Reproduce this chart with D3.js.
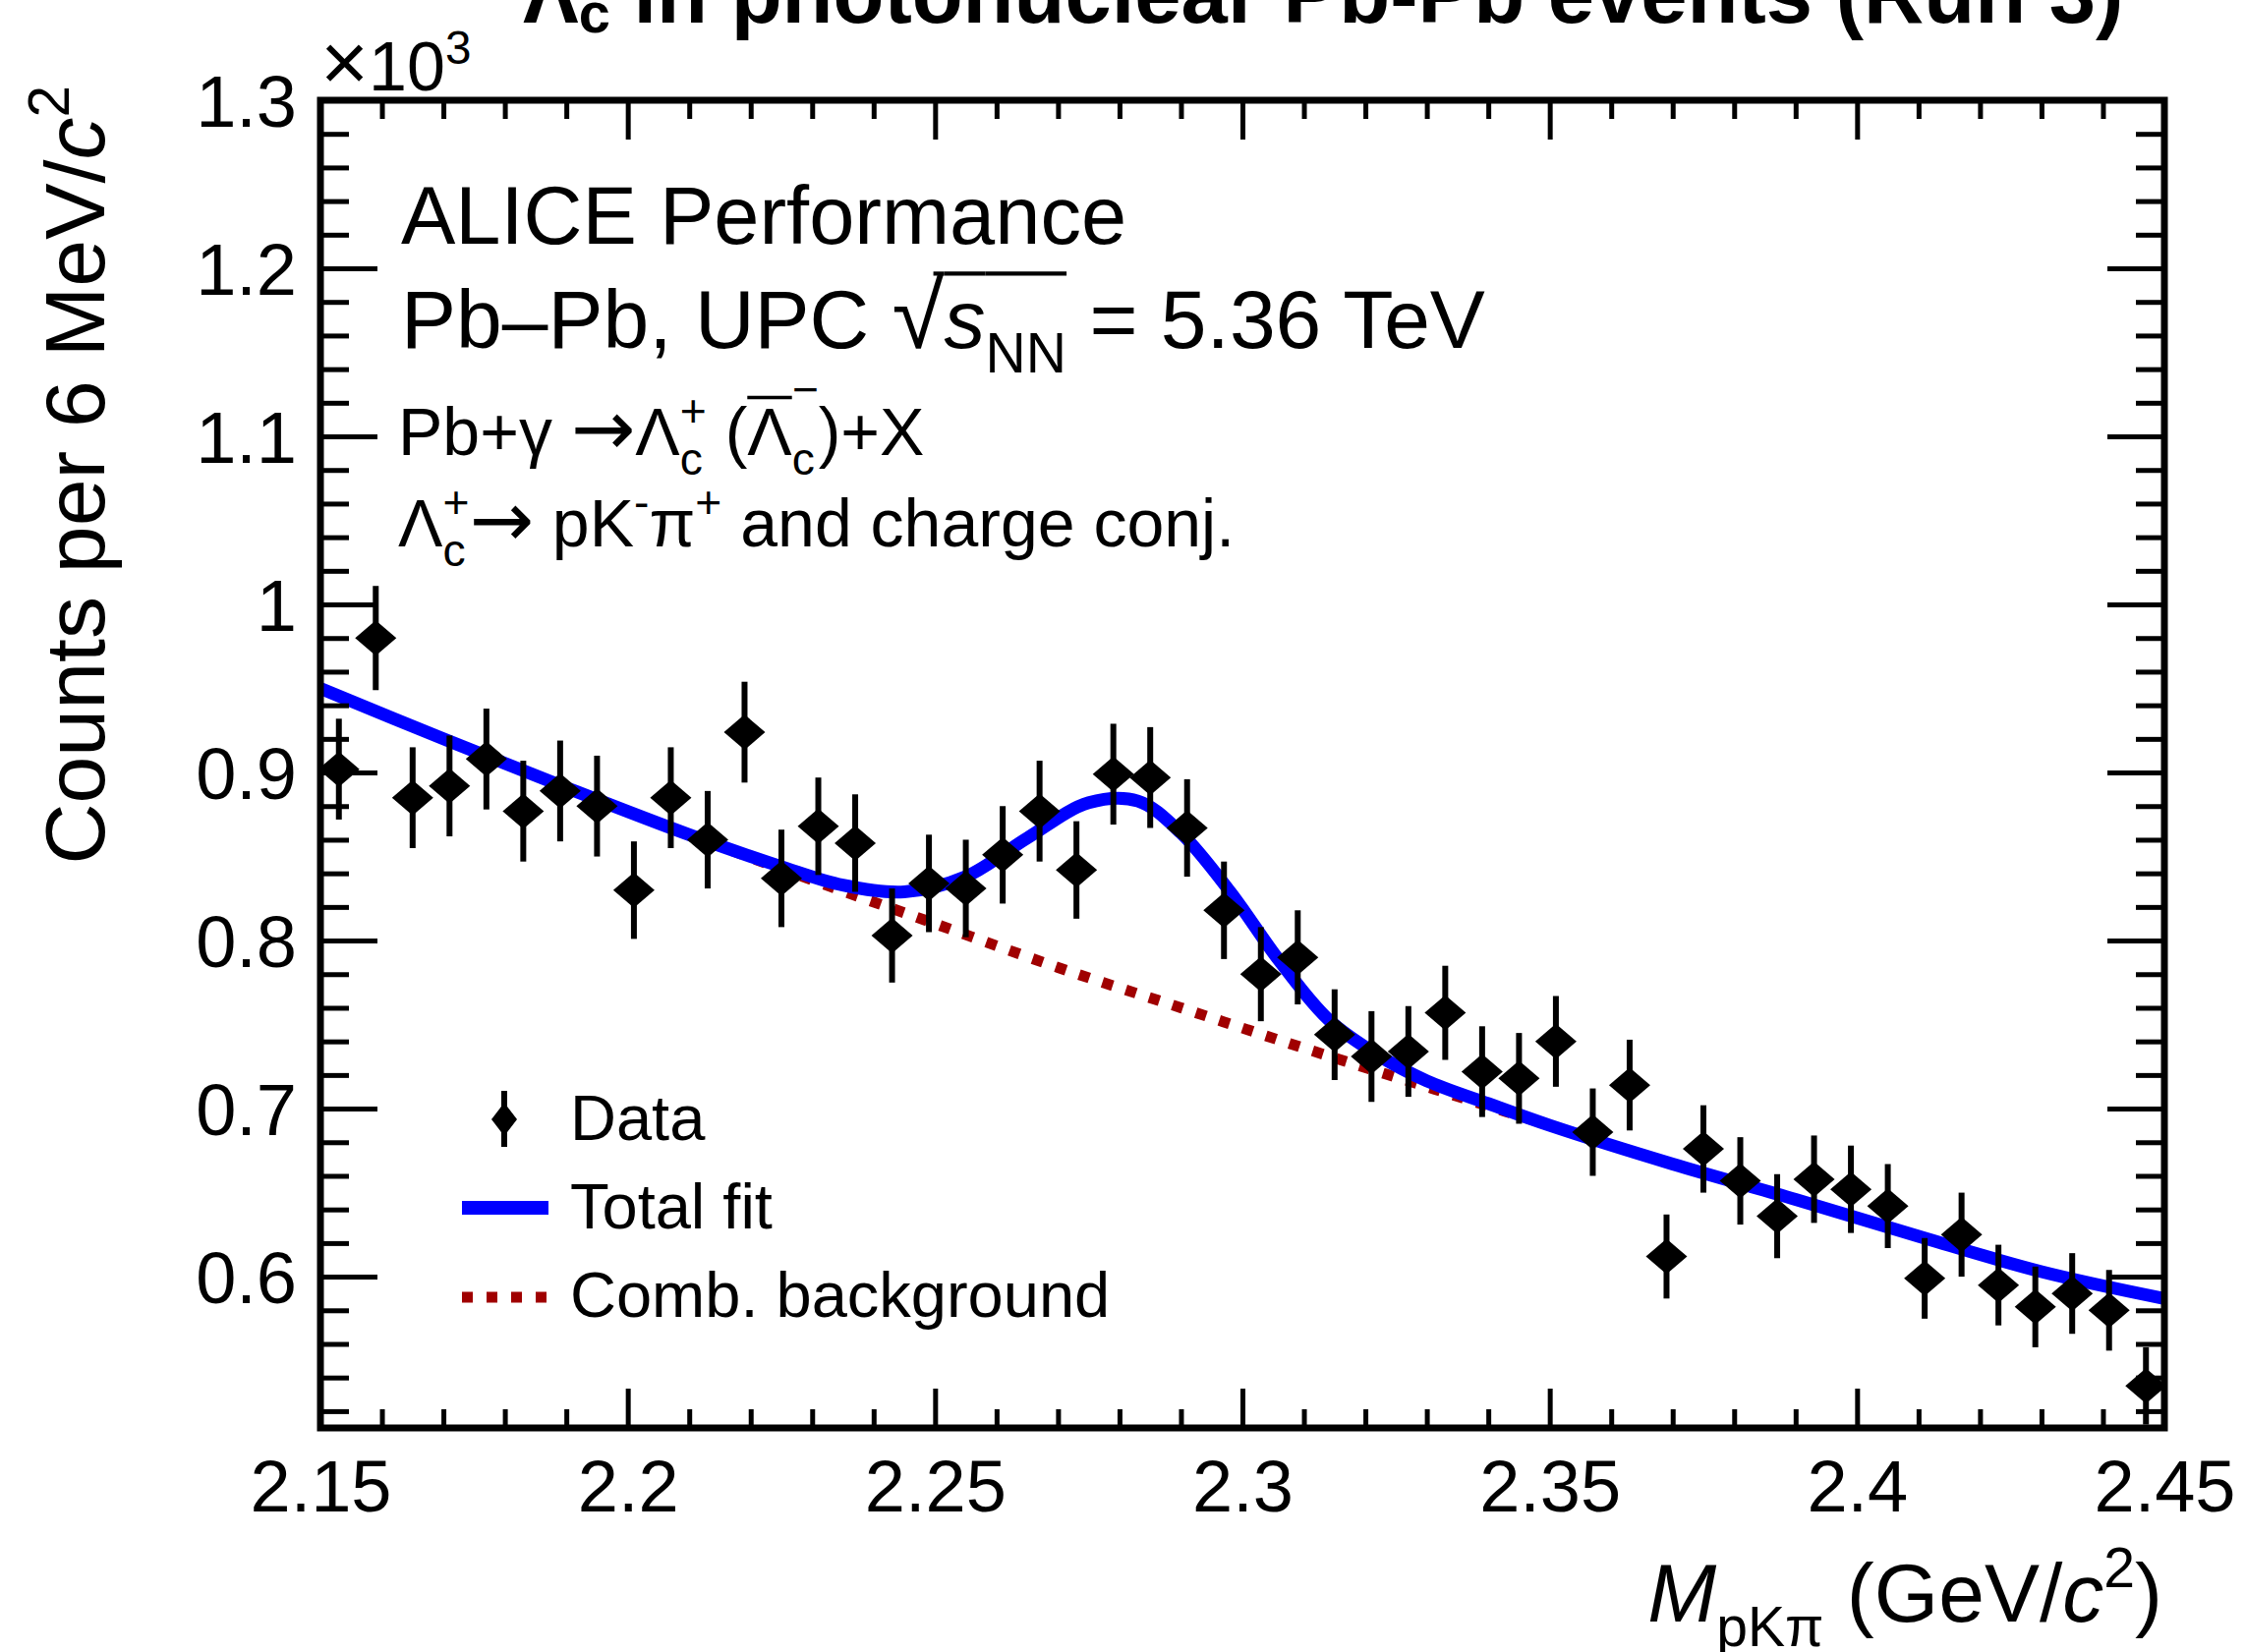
<!DOCTYPE html>
<html>
<head>
<meta charset="utf-8">
<script src="https://cdn.jsdelivr.net/npm/d3@7"></script>
<style>
	body { margin: 0; background: #fff; }
	svg text { font-family: "Liberation Sans", Arial, Helvetica, sans-serif; fill: #000; white-space: pre; }
</style>
</head>
<body>
<svg id="chart" width="2284" height="1681"></svg>
<script>
// invariant mass bin centres (GeV/c^2), 6 MeV bins
const massBins = [2.153, 2.159, 2.165, 2.171, 2.177, 2.183, 2.189, 2.195, 2.201, 2.207,
	2.213, 2.219, 2.225, 2.231, 2.237, 2.243, 2.249, 2.255, 2.261, 2.267,
	2.273, 2.279, 2.285, 2.291, 2.297, 2.303, 2.309, 2.315, 2.321, 2.327,
	2.333, 2.339, 2.345, 2.351, 2.357, 2.363, 2.369, 2.375, 2.381, 2.387,
	2.393, 2.399, 2.405, 2.411, 2.417, 2.423, 2.429, 2.435, 2.441, 2.447]
// counts in units of 10^3
const counts = [0.902, 0.980, 0.885, 0.892, 0.908, 0.877, 0.889, 0.880, 0.830, 0.885,
	0.860, 0.924, 0.837, 0.868, 0.858, 0.803, 0.834, 0.831, 0.851, 0.877,
	0.842, 0.899, 0.897, 0.867, 0.818, 0.780, 0.790, 0.744, 0.731, 0.734,
	0.757, 0.722, 0.718, 0.740, 0.686, 0.714, 0.612, 0.676, 0.657, 0.636,
	0.658, 0.652, 0.642, 0.599, 0.625, 0.595, 0.582, 0.590, 0.580, 0.535]
const countErrors = [0.030, 0.031, 0.030, 0.030, 0.030, 0.030, 0.030, 0.030, 0.029, 0.030,
	0.029, 0.030, 0.029, 0.029, 0.029, 0.028, 0.029, 0.029, 0.029, 0.030,
	0.029, 0.030, 0.030, 0.029, 0.029, 0.028, 0.028, 0.027, 0.027, 0.027,
	0.028, 0.027, 0.027, 0.027, 0.026, 0.027, 0.025, 0.026, 0.026, 0.025,
	0.026, 0.026, 0.025, 0.024, 0.025, 0.024, 0.024, 0.024, 0.024, 0.023]

// total fit
const fitMass = [2.15, 2.17, 2.19, 2.21, 2.225, 2.235, 2.245, 2.255, 2.265, 2.275, 2.283, 2.29,
	2.298, 2.306, 2.314, 2.322, 2.33, 2.34, 2.35, 2.37, 2.39, 2.41, 2.43, 2.45]
const fitTotal = [0.950, 0.920, 0.891, 0.863, 0.844, 0.833, 0.829, 0.838, 0.861, 0.882, 0.883, 0.864,
	0.829, 0.788, 0.753, 0.732, 0.7165, 0.703, 0.690, 0.667, 0.646, 0.624, 0.603, 0.587]

// combinatorial background
const bkgMass = [2.15, 2.17, 2.19, 2.21, 2.23, 2.25, 2.27, 2.29, 2.31, 2.33, 2.35, 2.37, 2.39, 2.41, 2.43, 2.45]
const bkgValues = [0.950, 0.920, 0.891, 0.863, 0.836, 0.810, 0.784, 0.760, 0.736, 0.713, 0.690, 0.667, 0.646, 0.624, 0.603, 0.587]

const xMajorTicks = [2.15, 2.2, 2.25, 2.3, 2.35, 2.4, 2.45]
const xTickLabels = ['2.15', '2.2', '2.25', '2.3', '2.35', '2.4', '2.45']
const yMajorTicks = [0.6, 0.7, 0.8, 0.9, 1.0, 1.1, 1.2, 1.3]
const yTickLabels = ['0.6', '0.7', '0.8', '0.9', '1', '1.1', '1.2', '1.3']

const legendLabels = ['Data', 'Total fit', 'Comb. background']

const blue = '#0000ff'
const darkRed = '#a00000'

const svg = d3.select('#chart')
const fLeft = 326, fRight = 2202, fTop = 102, fBottom = 1453

const x = d3.scaleLinear().domain([2.15, 2.45]).range([fLeft, fRight])
const y = d3.scaleLinear().domain([0.51, 1.3]).range([fBottom, fTop])

svg.append('rect').attr('width', 2284).attr('height', 1681).attr('fill', '#fff')

svg.append('defs').append('clipPath').attr('id', 'frameClip')
	.append('rect')
	.attr('x', fLeft).attr('y', fTop)
	.attr('width', fRight - fLeft).attr('height', fBottom - fTop)

// text built from pieces: sub/sup scripts, italics, overlines
function richText(parent, segs, opts) {
	const size = opts.size
	const g = parent.append('g')
	let cx = 0
	let heldW = 0
	segs.forEach(s => {
		const small = s.sub || s.sup
		const fs = (small ? size * 0.68 : size) * (s.scale || 1)
		const dy = s.sub ? size * (s.lo || 0.3) : s.sup ? -size * (s.hi || 0.42) : 0
		const t = g.append('text')
			.attr('x', cx)
			.attr('y', dy)
			.attr('font-size', fs)
			.attr('font-style', s.it ? 'italic' : null)
			.attr('font-weight', opts.weight || null)
			.style('font-family', s.ff || null)
			.text(s.t)
		const w = t.node().getComputedTextLength()
		if (s.ov) {
			const oy = -size * (opts.ovY || 0.86)
			g.append('line')
				.attr('x1', cx + (s.ovIn || 0) * size).attr('x2', cx + w)
				.attr('y1', oy).attr('y2', oy)
				.attr('stroke', '#000').attr('stroke-width', size * 0.05)
		}
		if (s.hold) {
			heldW = w
		} else {
			cx += Math.max(w, heldW)
			heldW = 0
		}
	})
	const shift = opts.anchor === 'end' ? -cx : 0
	g.attr('transform', `translate(${opts.x},${opts.y}) rotate(${opts.rotate || 0}) translate(${shift},0)`)
	return g
}

// ---------- curves ----------
const plot = svg.append('g').attr('clip-path', 'url(#frameClip)')

plot.append('path')
	.datum(d3.zip(bkgMass, bkgValues))
	.attr('d', d3.line().x(d => x(d[0])).y(d => y(d[1])).curve(d3.curveMonotoneX))
	.attr('fill', 'none')
	.attr('stroke', darkRed)
	.attr('stroke-width', 11)
	.attr('stroke-dasharray', '11 14')

plot.append('path')
	.datum(d3.zip(fitMass, fitTotal))
	.attr('d', d3.line().x(d => x(d[0])).y(d => y(d[1])).curve(d3.curveCatmullRom.alpha(0.5)))
	.attr('fill', 'none')
	.attr('stroke', blue)
	.attr('stroke-width', 13)

// ---------- data points ----------
const diamond = 'M0,-18 L21,0 L0,18 L-21,0 Z'
const pts = svg.append('g')
massBins.forEach((m, i) => {
	pts.append('line')
		.attr('clip-path', 'url(#frameClip)')
		.attr('x1', x(m)).attr('x2', x(m))
		.attr('y1', y(counts[i] - countErrors[i]))
		.attr('y2', y(counts[i] + countErrors[i]))
		.attr('stroke', '#000')
		.attr('stroke-width', 6)
	pts.append('path')
		.attr('d', diamond)
		.attr('transform', `translate(${x(m)},${y(counts[i])})`)
		.attr('fill', '#000')
})

// ---------- axes ----------
function styleAxis(g) {
	g.select('.domain').remove()
	g.selectAll('.tick line').attr('stroke', '#000').attr('stroke-width', 5)
}

const xMinor = d3.range(2.16, 2.445, 0.01).filter(v => Math.abs(v * 20 - Math.round(v * 20)) > 1e-6)
const yMinor = d3.range(0.52, 1.29, 0.02).filter(v => Math.abs(v * 10 - Math.round(v * 10)) > 1e-6)

const xb = svg.append('g').attr('transform', `translate(0,${fBottom})`)
	.call(d3.axisBottom(x).tickValues(xMajorTicks).tickSize(-40).tickFormat((d, i) => xTickLabels[i]))
	.call(styleAxis)
xb.selectAll('.tick text').attr('y', 85).attr('dy', null).attr('font-size', 74).attr('fill', '#000')
svg.append('g').attr('transform', `translate(0,${fBottom})`)
	.call(d3.axisBottom(x).tickValues(xMinor).tickSize(-19).tickFormat(''))
	.call(styleAxis)

svg.append('g').attr('transform', `translate(0,${fTop})`)
	.call(d3.axisTop(x).tickValues(xMajorTicks).tickSize(-40).tickFormat(''))
	.call(styleAxis)
svg.append('g').attr('transform', `translate(0,${fTop})`)
	.call(d3.axisTop(x).tickValues(xMinor).tickSize(-19).tickFormat(''))
	.call(styleAxis)

const yl = svg.append('g').attr('transform', `translate(${fLeft},0)`)
	.call(d3.axisLeft(y).tickValues(yMajorTicks).tickSize(-58).tickFormat((d, i) => yTickLabels[i]))
	.call(styleAxis)
yl.selectAll('.tick text').attr('x', -24).attr('dy', '0.36em').attr('font-size', 74).attr('fill', '#000')
svg.append('g').attr('transform', `translate(${fLeft},0)`)
	.call(d3.axisLeft(y).tickValues(yMinor).tickSize(-29).tickFormat(''))
	.call(styleAxis)

svg.append('g').attr('transform', `translate(${fRight},0)`)
	.call(d3.axisRight(y).tickValues(yMajorTicks).tickSize(-58).tickFormat(''))
	.call(styleAxis)
svg.append('g').attr('transform', `translate(${fRight},0)`)
	.call(d3.axisRight(y).tickValues(yMinor).tickSize(-29).tickFormat(''))
	.call(styleAxis)

svg.append('rect')
	.attr('x', fLeft).attr('y', fTop)
	.attr('width', fRight - fLeft).attr('height', fBottom - fTop)
	.attr('fill', 'none').attr('stroke', '#000').attr('stroke-width', 7)

// ---------- axis titles ----------
richText(svg, [{ t: '×', scale: 1.2 }, { t: '10' }, { t: '3', sup: true, hi: 0.38 }], { x: 326, y: 92, size: 70 })

richText(svg, [{ t: 'Counts per 6 MeV/' }, { t: 'c', it: true }, { t: '2', sup: true }],
	{ x: 106, y: 87, size: 86, anchor: 'end', rotate: -90 })

richText(svg, [{ t: 'M', it: true }, { t: 'pKπ', sub: true }, { t: ' (GeV/' }, { t: 'c', it: true },
	{ t: '2', sup: true }, { t: ')' }],
	{ x: 2200, y: 1650, size: 84, anchor: 'end' })

// title, cut by the top edge
richText(svg, [{ t: 'Λ' }, { t: 'c', sub: true, lo: 0.12 }, { t: ' in photonuclear Pb-Pb events (Run 3)' }],
	{ x: 532, y: 23, size: 85, weight: 'bold' })

// ---------- labels ----------
richText(svg, [{ t: 'ALICE Performance' }], { x: 408, y: 248, size: 83 })
richText(svg, [{ t: 'Pb–Pb, UPC ' }, { t: '√', scale: 1.15, ov: true, ovIn: 0.5 }, { t: 's', it: true, ov: true },
	{ t: 'NN', sub: true, ov: true }, { t: ' = 5.36 TeV' }],
	{ x: 408, y: 354, size: 84, ovY: 0.9 })
richText(svg, [{ t: 'Pb+γ ' }, { t: '→', ff: 'DejaVu Sans', scale: 1.15 }, { t: 'Λ' },
	{ t: '+', sup: true, hold: true }, { t: 'c', sub: true },
	{ t: ' (' }, { t: 'Λ', ov: true }, { t: '−', sup: true, hold: true, hi: 0.75 }, { t: 'c', sub: true },
	{ t: ')+X' }],
	{ x: 405, y: 463, size: 68 })
richText(svg, [{ t: 'Λ' }, { t: '+', sup: true, hold: true }, { t: 'c', sub: true },
	{ t: '→', ff: 'DejaVu Sans', scale: 1.15 }, { t: ' pK' },
	{ t: '-', sup: true }, { t: 'π' }, { t: '+', sup: true }, { t: ' and charge conj.' }],
	{ x: 405, y: 556, size: 68 })

// ---------- legend ----------
const legend = svg.append('g')
const rowBase = [1160, 1250, 1340]
legend.append('line')
	.attr('x1', 513).attr('x2', 513).attr('y1', 1110).attr('y2', 1167)
	.attr('stroke', '#000').attr('stroke-width', 6)
legend.append('path')
	.attr('d', 'M0,-17 L13,0 L0,17 L-13,0 Z')
	.attr('transform', 'translate(513,1139)')
	.attr('fill', '#000')
legend.append('line')
	.attr('x1', 470).attr('x2', 558).attr('y1', 1229).attr('y2', 1229)
	.attr('stroke', blue).attr('stroke-width', 14)
legend.append('line')
	.attr('x1', 470).attr('x2', 558).attr('y1', 1320).attr('y2', 1320)
	.attr('stroke', darkRed).attr('stroke-width', 11).attr('stroke-dasharray', '11 14')
legendLabels.forEach((lab, i) => {
	legend.append('text')
		.attr('x', 580).attr('y', rowBase[i])
		.attr('font-size', 65)
		.text(lab)
})
</script>
</body>
</html>
